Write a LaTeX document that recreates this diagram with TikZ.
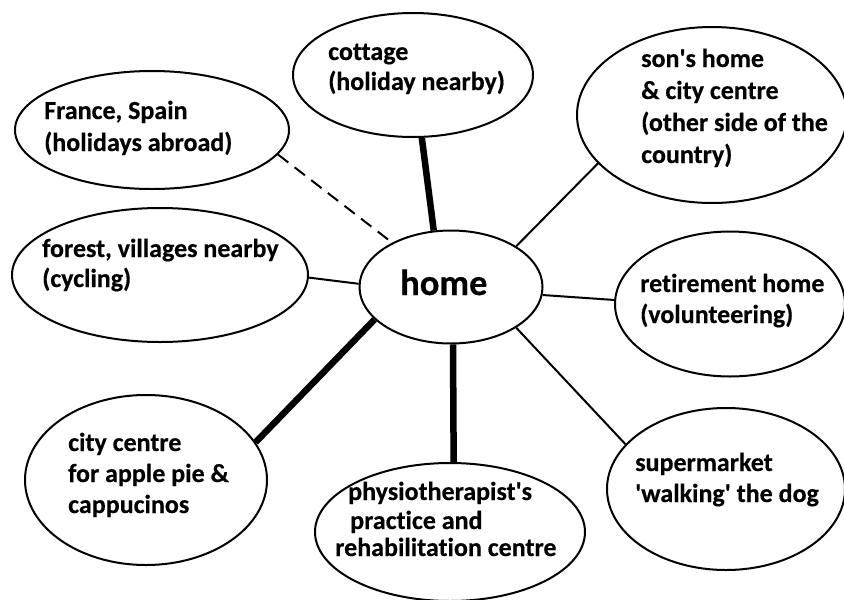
\documentclass[tikz,border=0pt]{standalone}
\usepackage{fontspec}
\setmainfont{Carlito}[Ligatures={NoCommon}, BoldFeatures={FakeBold=0.4}]
\usetikzlibrary{shapes.geometric}

% left-aligned multi-line label whose baseline is the first line's baseline
\newcommand\labellines[1]{\begin{tabular}[t]{@{}l@{}}#1\end{tabular}}

\tikzset{
  place/.style={ellipse, draw, line width=2pt, inner sep=0pt, fill=white},
  txt/.style={anchor=base west, inner sep=0pt,
    font=\bfseries\fontsize{26pt}{31pt}\selectfont},
  thinlink/.style={line width=2pt},
  thicklink/.style={line width=6.5pt},
  dashlink/.style={line width=2pt, dash pattern=on 13pt off 8pt},
}

\begin{document}
\begin{tikzpicture}[x=1pt, y=-1pt]
\useasboundingbox (0,0) rectangle (844,600);
\fill[white] (0,0) rectangle (844,600);

% places
\node[place, minimum width=183pt, minimum height=113pt] (home)     at (451,287) {};
\node[place, minimum width=240pt, minimum height=124pt] (cottage)  at (413,75)  {};
\node[place, minimum width=274pt, minimum height=118pt] (abroad)   at (152,130) {};
\node[place, minimum width=270pt, minimum height=176pt] (son)      at (712,115) {};
\node[place, minimum width=296pt, minimum height=134pt] (forest)   at (160,275) {};
\node[place, minimum width=230pt, minimum height=145pt] (retire)   at (730,304) {};
\node[place, minimum width=242pt, minimum height=170pt] (city)     at (146,480) {};
\node[place, minimum width=270pt, minimum height=138pt] (physio)   at (450,532) {};
\node[place, minimum width=238pt, minimum height=162pt] (market)   at (726,489) {};

% links to home
\draw[thicklink] (cottage.-82) -- (home.107.8);
\draw[dashlink]  (abroad.-11)  -- (home.143.6);
\draw[thinlink]  (son.203.8)   -- (home.32.2);
\draw[thinlink]  (forest.-1.5) -- (home.178.7);
\draw[thinlink]  (retire.178)  -- (home.-5);
\draw[thicklink] (city.19.6)   -- (home.203.3);
\draw[thicklink] (physio.87.5) -- (home.-88);
\draw[thinlink]  (market.156.5) -- (home.-32.6);

% labels
\node[anchor=base west, inner sep=0pt, font=\bfseries\fontsize{36.5pt}{40pt}\selectfont]
  (homeText) at (400,295) {home};
\node[txt] (cottageText) at (328,60)
  {\labellines{cottage\\[-1pt](holiday nearby)}};
\node[txt] (abroadText) at (44,119)
  {\labellines{France, Spain\\[1pt](holidays abroad)}};
\node[txt] (sonText) at (641,67)
  {\labellines{son\textquotesingle s home\\[1pt]\& city centre\\[1pt](other side of the\\[1pt]country)}};
\node[txt] (forestText) at (42,257)
  {\labellines{forest, villages nearby\\[-1pt](cycling)}};
\node[txt] (retireText) at (640,292)
  {\labellines{retirement home\\(volunteering)}};
\node[txt] (cityText) at (68,451)
  {\labellines{city centre\\for apple pie \&\\cappucinos}};
\node[txt] (physioText) at (335,500)
  {\labellines{\hspace*{13pt}physiotherapist\textquotesingle s\\[-2pt]\hspace*{15pt}practice and\\[-4pt]rehabilitation centre}};
\node[txt] (marketText) at (635,471)
  {\labellines{supermarket\\\textquotesingle walking\textquotesingle{} the dog}};
\end{tikzpicture}
\end{document}
